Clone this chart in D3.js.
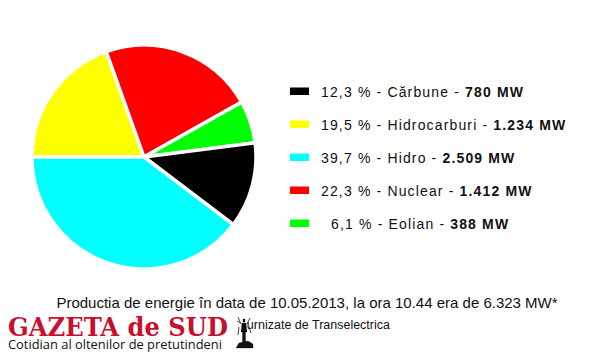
<!DOCTYPE html>
<html><head><meta charset="utf-8">
<script src="https://cdn.jsdelivr.net/npm/d3@7"></script>
<style>body{margin:0;background:#fff}svg{display:block}</style>
</head><body>
<svg id="c" width="600" height="360"></svg>
<script>
// Data
const categories = ["Cărbune", "Hidrocarburi", "Hidro", "Nuclear", "Eolian"];
const percents = ["12,3", "19,5", "39,7", "22,3", "6,1"];
const valuesMW = [780, 1234, 2509, 1412, 388];
const valueLabels = ["780 MW", "1.234 MW", "2.509 MW", "1.412 MW", "388 MW"];
const colors = ["#000000", "#ffff00", "#00ffff", "#ff0000", "#00ff00"];
const pieOrder = ["Hidrocarburi", "Nuclear", "Eolian", "Cărbune", "Hidro"];

const svg = d3.select("#c");
const rows = categories.map((c, i) => ({cat: c, pct: percents[i], v: valuesMW[i], lab: valueLabels[i], col: colors[i]}));
const ordered = pieOrder.map(n => rows.find(r => r.cat === n));

const cx = 144, cy = 157, R = 112;
const pie = d3.pie().sort(null).value(d => d.v).startAngle(1.5 * Math.PI).endAngle(3.5 * Math.PI);
const arc = d3.arc().innerRadius(0).outerRadius(R);
const g = svg.append("g").attr("transform", `translate(${cx},${cy})`);
g.selectAll("path").data(pie(ordered)).join("path")
  .attr("d", arc).attr("fill", d => d.data.col)
  .attr("stroke", "#fff").attr("stroke-width", 3.5).attr("stroke-linejoin", "miter");

// Legend
const y = d3.scaleBand().domain(categories).range([75, 240]);
const lg = svg.append("g");
const item = lg.selectAll("g").data(rows).join("g")
  .attr("transform", d => `translate(290,${y(d.cat) + y.bandwidth() / 2})`);
item.append("rect").attr("x", 0).attr("y", -4).attr("width", 19).attr("height", 7.5).attr("fill", d => d.col);
const t = item.append("text").attr("x", 31).attr("y", 5)
  .attr("font-family", "Liberation Sans, Arial, sans-serif").attr("font-size", 14)
  .attr("letter-spacing", 1.15).attr("fill", "#111");
t.append("tspan").attr("xml:space", "preserve").text(d => (d.pct.length < 4 ? "  " : "") + d.pct + " % - " + d.cat + " - ");
t.append("tspan").attr("font-weight", "bold").text(d => d.lab);

// Footer
svg.append("text").attr("x", 307).attr("y", 308).attr("text-anchor", "middle")
  .attr("font-family", "Liberation Sans, Arial, sans-serif").attr("font-size", 15).attr("fill", "#111")
  .text("Productia de energie în data de 10.05.2013, la ora 10.44 era de 6.323 MW*");
// source note, partly covered by the logo in the original: only the visible part is shown
svg.append("text").attr("x", 390).attr("y", 329).attr("text-anchor", "end")
  .attr("font-family", "Liberation Sans, Arial, sans-serif").attr("font-size", 12.5).attr("fill", "#111")
  .text("urnizate de Transelectrica");

// Logo
const logo = svg.append("g");
logo.append("text").attr("x", 8).attr("y", 336)
  .attr("font-family", "DejaVu Serif, serif").attr("font-weight", "bold").attr("font-size", 26)
  .attr("fill", "#c8102e").attr("textLength", 220).attr("lengthAdjust", "spacingAndGlyphs")
  .text("GAZETA de SUD");
logo.append("text").attr("x", 8).attr("y", 349)
  .attr("font-family", "Open Sans, sans-serif").attr("font-size", 13.5)
  .attr("fill", "#111").attr("textLength", 214).attr("lengthAdjust", "spacingAndGlyphs")
  .text("Cotidian al oltenilor de pretutindeni");
// small statue emblem
const em = logo.append("g").attr("transform", "translate(236,315)").attr("fill", "#111").attr("stroke", "#111");
em.append("path").attr("d", "M7 4 L9 4 L9 7 L7 7 Z M6 8 L10 8 L11 17 L9.5 17 L9.5 27 L6.5 27 L6.5 17 L5 17 Z").attr("stroke-width", 0.3);
em.append("path").attr("d", "M2 2 L5 9 M14 3 L11 9 M1 6 L4 8 M13 12 L15 18 M3 12 L2 20").attr("stroke-width", 0.8).attr("fill", "none");
em.append("path").attr("d", "M0 33 L17 33 L17 29 L12 26 L3 28 Z").attr("stroke-width", 0.3);
</script>
</body></html>
